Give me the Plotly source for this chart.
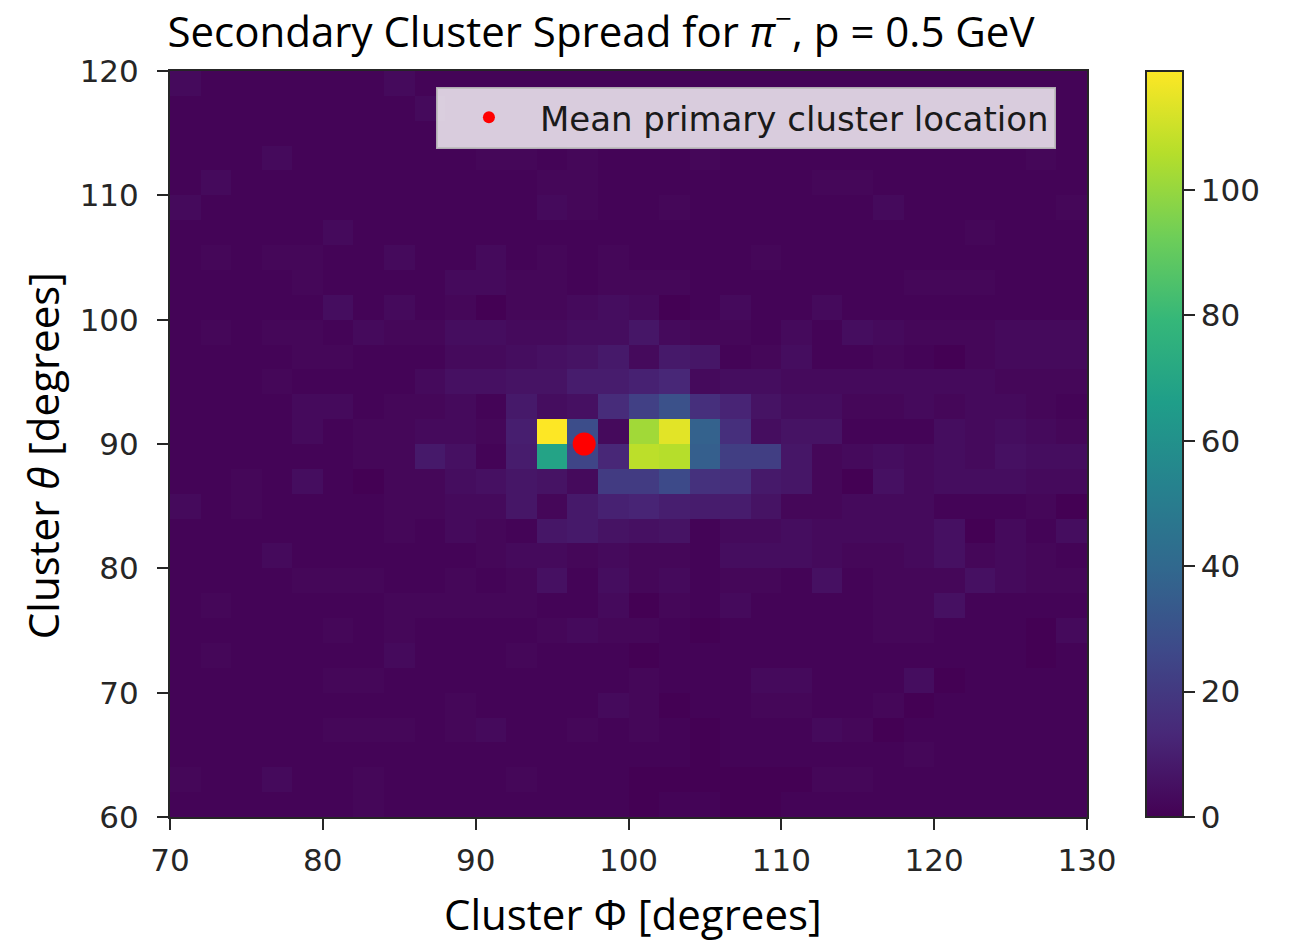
import plotly.graph_objects as go

# Bin centres (2-degree bins)
phi_centers = [71, 73, 75, 77, 79, 81, 83, 85, 87, 89, 91, 93, 95, 97, 99,
               101, 103, 105, 107, 109, 111, 113, 115, 117, 119, 121, 123, 125, 127, 129]
theta_centers = [119, 117, 115, 113, 111, 109, 107, 105, 103, 101, 99, 97, 95, 93, 91,
                 89, 87, 85, 83, 81, 79, 77, 75, 73, 71, 69, 67, 65, 63, 61]

# Counts, rows from theta=119 (top) down to theta=61 (bottom)
counts = [
    [3,1,1,1,1,1,1,3,1,1,1,1,1,1,1, 1,1,1,1,1,1,1,1,1,1,1,1,1,1,1],
    [1,1,1,1,1,1,1,1,3,1,1,1,1,1,1, 1,1,1,1,1,1,1,1,1,1,1,1,1,1,1],
    [1,1,1,1,1,1,1,1,1,1,1,1,1,1,1, 1,1,1,1,1,1,1,1,1,1,1,1,1,1,1],
    [1,1,1,3,1,1,1,1,1,1,2,2,1,2,1, 1,1,2,1,1,1,1,1,1,1,1,1,1,2,1],
    [1,3,1,1,1,1,1,1,1,1,1,1,2,2,1, 1,1,1,1,1,1,2,2,1,1,1,1,1,1,1],
    [3,1,1,1,1,1,1,1,1,1,1,1,3,2,1, 1,2,1,1,1,1,1,1,3,1,1,1,1,1,2],
    [1,1,1,1,1,3,1,1,1,1,1,1,1,1,1, 1,1,1,1,1,1,1,1,1,1,1,2,1,1,1],
    [1,2,1,2,2,1,1,3,1,1,3,1,2,1,2, 1,1,1,1,2,1,1,1,1,1,1,1,1,1,1],
    [1,1,1,1,2,1,1,1,1,3,3,2,2,1,2, 2,2,1,1,1,1,1,1,1,2,2,2,1,1,1],
    [1,1,1,1,1,4,1,3,1,2,0,2,2,3,4, 3,0,1,3,1,1,3,1,1,1,1,1,1,1,1],
    [1,2,1,2,2,1,3,2,2,4,4,3,3,4,4, 7,3,2,2,1,3,1,4,3,2,2,2,3,3,3],
    [1,1,1,1,2,2,1,1,1,3,3,4,5,6,8, 3,8,7,1,2,4,1,1,2,1,0,2,3,3,3],
    [1,1,1,2,1,1,1,1,3,5,5,6,6,9,9, 11,13,3,4,4,3,3,3,3,3,3,3,2,2,2],
    [1,1,1,1,3,3,1,2,2,3,1,8,4,5,15, 23,30,16,12,6,4,4,2,2,3,2,3,3,2,1],
    [1,1,1,1,3,1,2,2,3,3,2,10,119,28,3, 102,114,37,16,4,6,6,1,1,1,4,3,4,3,2],
    [1,1,1,1,1,1,2,2,8,5,1,9,69,25,13, 107,106,36,22,22,7,2,3,4,3,4,3,5,4,4],
    [1,1,2,1,4,1,0,2,2,4,5,7,6,3,21, 21,27,17,16,8,7,2,0,5,3,4,4,4,3,3],
    [3,1,2,1,1,1,1,2,2,3,3,7,2,8,11, 12,10,9,9,6,2,2,3,3,3,1,1,1,2,0],
    [1,1,1,1,1,1,1,2,1,3,2,1,7,8,6, 5,6,1,3,3,4,3,3,3,3,5,0,3,1,4],
    [1,1,1,3,1,1,1,1,1,1,2,3,3,2,3, 2,2,1,4,4,4,3,2,2,3,5,2,3,2,1],
    [1,1,1,1,2,2,2,1,1,2,1,2,5,1,4, 2,3,1,2,2,1,5,1,2,2,2,5,3,2,2],
    [1,2,1,1,1,1,1,2,2,2,2,2,1,1,3, 0,2,1,3,1,1,1,1,2,2,5,1,1,1,1],
    [1,1,1,1,1,2,1,2,1,1,1,1,2,3,2, 2,1,0,1,1,1,1,1,2,2,1,1,1,0,3],
    [1,2,1,1,1,1,1,3,1,1,1,2,1,1,1, 0,1,1,1,1,1,1,1,1,1,1,1,1,0,1],
    [1,1,1,1,1,2,2,1,1,1,1,1,1,1,1, 2,1,1,1,3,3,1,1,1,4,0,1,1,1,1],
    [1,1,1,1,1,1,1,1,1,2,1,1,1,1,3, 2,0,1,1,2,2,1,1,2,0,1,1,1,1,1],
    [1,1,1,1,1,2,2,2,1,2,3,1,1,2,1, 2,1,0,1,1,1,3,2,0,1,1,1,1,1,1],
    [1,1,1,1,1,1,1,1,1,1,1,1,1,1,1, 1,1,0,1,1,1,1,1,1,2,1,1,1,1,1],
    [2,1,1,3,1,1,2,1,1,1,1,2,1,1,1, 0,0,0,0,0,0,2,2,1,1,1,1,1,1,1],
    [1,1,1,1,1,1,2,1,1,1,1,1,1,1,1, 0,1,1,0,0,1,1,1,1,1,1,1,1,1,1],
]

mean_phi = [97.1]
mean_theta = [90.0]

x_ticks = [70, 80, 90, 100, 110, 120, 130]
y_ticks = [60, 70, 80, 90, 100, 110, 120]
cbar_ticks = [0, 20, 40, 60, 80, 100]

TICK_FONT = dict(family="DejaVu Sans", size=31, color="#262626")
LABEL_FONT = dict(family="Open Sans", size=42, color="#000000")

fig = go.Figure()
fig.add_trace(go.Heatmap(
    x=phi_centers, y=theta_centers, z=counts,
    colorscale="Viridis", zmin=0, zmax=119,
    showscale=True, showlegend=False, hoverinfo="skip",
    colorbar=dict(
        x=1.0643, xanchor="left", xref="paper", xpad=0, ypad=0,
        y=0.5, yanchor="middle", len=1.0, lenmode="fraction",
        thickness=37, outlinewidth=2, outlinecolor="#262626",
        tickvals=cbar_ticks, ticks="outside", ticklen=11, tickwidth=1.5,
        tickcolor="#262626", tickfont=TICK_FONT,
    ),
))
fig.add_trace(go.Scatter(
    x=mean_phi, y=mean_theta, mode="markers",
    marker=dict(color="#ff0000", size=23, line=dict(width=0)),
    name="Mean primary cluster location", showlegend=True,
))

axis_common = dict(
    showgrid=False, zeroline=False, showline=True, linecolor="#262626",
    linewidth=2, mirror=True, ticks="outside", ticklen=11, tickwidth=1.5,
    tickcolor="#262626", tickfont=TICK_FONT,
)
fig.update_xaxes(range=[70, 130], tickvals=x_ticks, ticklabelstandoff=4, **axis_common)
fig.update_yaxes(range=[60, 120], tickvals=y_ticks, ticklabelstandoff=12, **axis_common)

fig.update_layout(
    width=1289, height=944,
    margin=dict(l=170, r=202, t=71, b=127),
    paper_bgcolor="white", plot_bgcolor="white",
    title=dict(
        text="Secondary Cluster Spread for <i>π</i><sup>−</sup>, p = 0.5 GeV",
        x=601 / 1289, xanchor="center", xref="container",
        y=1 - 32 / 944, yanchor="middle", yref="container",
        font=LABEL_FONT,
    ),
    legend=dict(
        x=0.29, y=0.979, xanchor="left", yanchor="top",
        bgcolor="rgba(255,255,255,0.8)", bordercolor="rgba(190,190,190,0.9)",
        borderwidth=2, font=dict(family="DejaVu Sans", size=34, color="#1a1a1a"),
        itemsizing="constant", itemwidth=92,
    ),
    annotations=[
        dict(text="Cluster Φ [degrees]", xref="paper", yref="paper",
             x=0.505, y=-0.13, xanchor="center", yanchor="middle",
             showarrow=False, font=LABEL_FONT),
        dict(text="Cluster <i>θ</i> [degrees]", xref="paper", yref="paper",
             x=-0.1396, y=0.485, xanchor="center", yanchor="middle",
             textangle=-90, showarrow=False, font=LABEL_FONT),
    ],
)

fig.write_html("out.html")
